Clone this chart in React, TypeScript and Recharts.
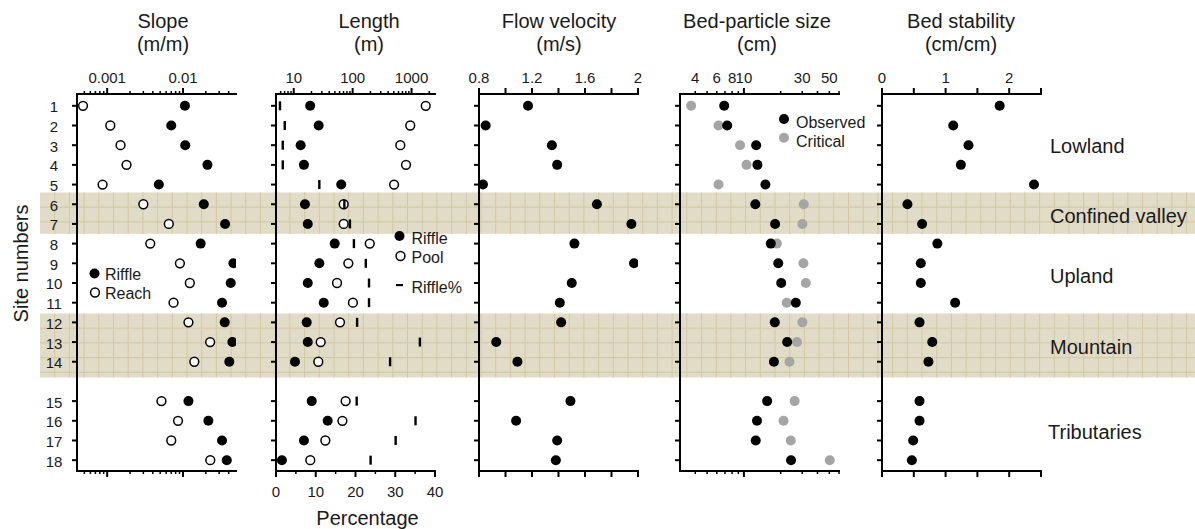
import React from 'react';
import { ScatterChart, Scatter, XAxis, YAxis, ReferenceArea } from 'recharts';

// site numbers and the row each is drawn on (one empty row before the tributaries)
const sites = [1, 2, 3, 4, 5, 6, 7, 8, 9, 10, 11, 12, 13, 14, 15, 16, 17, 18];
const siteRows = [1, 2, 3, 4, 5, 6, 7, 8, 9, 10, 11, 12, 13, 14, 16, 17, 18, 19];

const slopeRiffle = [0.0106, 0.007, 0.0107, 0.021, 0.0048, 0.0188, 0.0359, 0.0171, 0.0462, 0.0426, 0.0327, 0.0355, 0.0448, 0.0408, 0.0118, 0.0216, 0.0327, 0.0378];
const slopeReach = [0.00048, 0.0011, 0.0015, 0.0018, 0.00087, 0.003, 0.0065, 0.0037, 0.0091, 0.0123, 0.0075, 0.0118, 0.0228, 0.0141, 0.0052, 0.0086, 0.007, 0.0229];

const lengthRiffle = [19, 26.5, 13.1, 14.9, 64, 15.5, 17.3, 49.6, 27.2, 17.3, 32.3, 16.6, 17.3, 10.5, 20.2, 37.7, 14.9, 6.3];
const lengthPool = [1740, 950, 645, 805, 505, 70.5, 70.5, 195, 84.5, 54.3, 101, 61, 28.7, 26.1, 76, 67, 34.4, 19.1];
const rifflePct = [1.0, 2.2, 1.7, 1.7, 10.9, 17.2, 18.6, 19.6, 22.6, 23.4, 23.4, 20.4, 36.2, 28.7, 20.3, 35.1, 30.1, 23.8];

const flowVelocity = [1.17, 0.85, 1.35, 1.39, 0.83, 1.69, 1.95, 1.52, 1.97, 1.5, 1.41, 1.42, 0.93, 1.09, 1.49, 1.08, 1.39, 1.38];

const particleObserved = [6.9, 7.3, 12.6, 12.9, 15.0, 12.4, 18.0, 16.6, 19.1, 20.2, 26.6, 17.9, 22.6, 17.6, 15.5, 12.8, 12.5, 24.3];
const particleCritical = [3.7, 6.2, 9.3, 10.5, 6.2, 30.9, 30.1, 18.6, 30.7, 32.1, 22.4, 30.1, 27.2, 23.6, 26.0, 21.1, 24.2, 50.4];

const bedStability = [1.85, 1.12, 1.36, 1.24, 2.39, 0.4, 0.63, 0.87, 0.61, 0.61, 1.15, 0.59, 0.79, 0.73, 0.59, 0.59, 0.49, 0.47];

// axis ticks
const slopeTicks = [0.0005, 0.0006, 0.0007, 0.0008, 0.0009, 0.001, 0.002, 0.003, 0.004, 0.005, 0.006, 0.007, 0.008, 0.009, 0.01, 0.02, 0.03, 0.04];
const slopeLabels = [0.001, 0.01];
const lengthTicks = [6, 7, 8, 9, 10, 20, 30, 40, 50, 60, 70, 80, 90, 100, 200, 300, 400, 500, 600, 700, 800, 900, 1000, 2000];
const lengthLabels = [10, 100, 1000];
const pctTicks = [0, 5, 10, 15, 20, 25, 30, 35, 40];
const pctLabels = [0, 10, 20, 30, 40];
const flowTicks = [0.8, 1, 1.2, 1.4, 1.6, 1.8, 2];
const flowLabels = [0.8, 1.2, 1.6, 2];
const particleTicks = [4, 5, 6, 7, 8, 9, 10, 20, 30, 40, 50, 60];
const particleMajor = [10];
const particleLabels = [4, 6, 8, 10, 30, 50];
const stabilityTicks = [0, 0.5, 1, 1.5, 2, 2.5];
const stabilityLabels = [0, 1, 2];

const regions = [
    { name: 'Lowland', y: 153, x: 1050 },
    { name: 'Confined valley', y: 223, x: 1050 },
    { name: 'Upland', y: 283, x: 1050 },
    { name: 'Mountain', y: 354, x: 1050 },
    { name: 'Tributaries', y: 439, x: 1048 },
];
const shadedRows: [number, number][] = [[5.4, 7.5], [11.55, 14.8]];

const FONT = '"Liberation Sans", Arial, sans-serif';
const TXT = '#1a1a1a';
const W = 1195;
const H = 529;
const PLOT_W = 159;
const PLOT_TOP = 94;
const PLOT_BOTTOM = 471;
const AXIS_H = 30;
const RIGHT = 12;
const Y_DOMAIN: [number, number] = [0.4, 19.55];
const axisStyle = { stroke: '#000', strokeWidth: 2, strokeLinecap: 'square' as const };

type AxisCfg = { domain: [number, number]; scale: 'log' | 'linear'; ticks: number[]; majors: number[]; labels: number[] };
type Mark = 'filled' | 'open' | 'gray' | 'dash';
type SeriesCfg = { name: string; values: number[]; mark: Mark; axis: 'top' | 'bot' };

const marks: Record<Mark, (p: any) => React.ReactElement> = {
    filled: (p) => <circle cx={p.cx} cy={p.cy} r={5} fill="#000" />,
    open: (p) => <circle cx={p.cx} cy={p.cy} r={4.4} fill="#fff" stroke="#000" strokeWidth={1.5} />,
    gray: (p) => <circle cx={p.cx} cy={p.cy} r={5} fill="#a5a5a5" />,
    dash: (p) => <rect x={p.cx - 1.2} y={p.cy - 4.5} width={2.4} height={9} fill="#000" />,
};

const xTick = (cfg: AxisCfg, side: 'top' | 'bottom') => (p: any) => {
    const { x, y, payload } = p;
    const v = payload.value;
    const major = cfg.majors.includes(v);
    const len = major ? 6 : 3;
    const d = side === 'top' ? -1 : 1;
    return (
        <g>
            <line x1={x} x2={x} y1={y} y2={y + d * len} stroke="#000" strokeWidth={major ? 2 : 1.5} />
            {cfg.labels.includes(v) && (
                <text x={x} y={side === 'top' ? y - 11 : y + 26} textAnchor="middle" fontSize={15} fontFamily={FONT} fill={TXT}>
                    {String(v)}
                </text>
            )}
        </g>
    );
};

const yTick = (showLabels: boolean) => (p: any) => {
    const { x, y, payload } = p;
    const i = siteRows.indexOf(payload.value);
    return (
        <g>
            <line x1={x - 5} x2={x} y1={y} y2={y} stroke="#000" strokeWidth={2} />
            {showLabels && (
                <text x={x - 23} y={y + 6.5} textAnchor="middle" fontSize={15} fontFamily={FONT} fill={TXT}>
                    {sites[i]}
                </text>
            )}
        </g>
    );
};

function Panel({ plotLeft, yw, top, bottom, series, showSites }: {
    plotLeft: number; yw: number; top: AxisCfg; bottom: AxisCfg; series: SeriesCfg[]; showSites?: boolean;
}) {
    return (
        <div style={{ position: 'absolute', left: plotLeft - yw, top: 0 }}>
            <ScatterChart
                width={yw + PLOT_W + RIGHT}
                height={H}
                margin={{ top: PLOT_TOP - AXIS_H, right: RIGHT, bottom: H - PLOT_BOTTOM - AXIS_H, left: 0 }}
            >
                <XAxis xAxisId="top" orientation="top" type="number" dataKey="x" scale={top.scale} domain={top.domain}
                    allowDataOverflow ticks={top.ticks} interval={0} height={AXIS_H} tickSize={0} tickMargin={0}
                    tickLine={false} axisLine={axisStyle} tick={xTick(top, 'top')} />
                <XAxis xAxisId="bot" orientation="bottom" type="number" dataKey="x" scale={bottom.scale} domain={bottom.domain}
                    allowDataOverflow ticks={bottom.ticks} interval={0} height={AXIS_H} tickSize={0} tickMargin={0}
                    tickLine={false} axisLine={axisStyle} tick={xTick(bottom, 'bottom')} />
                <YAxis type="number" dataKey="y" domain={Y_DOMAIN} reversed allowDataOverflow ticks={siteRows}
                    interval={0} width={yw} tickSize={0} tickMargin={0} tickLine={false} axisLine={axisStyle}
                    tick={yTick(!!showSites)} />
                {series.map((s) => (
                    <Scatter
                        key={s.name}
                        name={s.name}
                        xAxisId={s.axis}
                        data={siteRows.map((row, i) => ({ x: s.values[i], y: row }))}
                        shape={marks[s.mark]}
                        isAnimationActive={false}
                    />
                ))}
            </ScatterChart>
        </div>
    );
}

const GRID = 14.7;
function GridBand(props: any) {
    const { x, y, width, height } = props;
    const vs: number[] = [];
    for (let gx = x + GRID; gx < x + width; gx += GRID) vs.push(gx);
    const hs: number[] = [];
    for (let gy = y + GRID; gy < y + height - 2; gy += GRID) hs.push(gy);
    return (
        <g>
            <rect x={x} y={y} width={width} height={height} fill="#e1dcc8" />
            {vs.map((gx) => <line key={'v' + gx} x1={gx} x2={gx} y1={y} y2={y + height} stroke="#d2c8a3" strokeWidth={1} />)}
            {hs.map((gy) => <line key={'h' + gy} x1={x} x2={x + width} y1={gy} y2={gy} stroke="#d2c8a3" strokeWidth={1} />)}
        </g>
    );
}

function Bands() {
    return (
        <div style={{ position: 'absolute', left: 0, top: 0 }}>
            <ScatterChart width={W} height={H} margin={{ top: PLOT_TOP, right: 0, bottom: H - PLOT_BOTTOM, left: 40 }}>
                <XAxis type="number" dataKey="x" domain={[0, 1]} allowDataOverflow hide />
                <YAxis type="number" dataKey="y" domain={Y_DOMAIN} reversed allowDataOverflow hide />
                {shadedRows.map(([a, b]) => (
                    <ReferenceArea key={a} y1={a} y2={b} shape={GridBand} ifOverflow="visible" />
                ))}
            </ScatterChart>
        </div>
    );
}

const slopeAxis: AxisCfg = { domain: [0.0004, 0.05], scale: 'log', ticks: slopeTicks, majors: slopeLabels, labels: slopeLabels };
const lengthAxis: AxisCfg = { domain: [5, 2500], scale: 'log', ticks: lengthTicks, majors: lengthLabels, labels: lengthLabels };
const pctAxis: AxisCfg = { domain: [0, 40], scale: 'linear', ticks: pctTicks, majors: pctLabels, labels: pctLabels };
const flowAxis: AxisCfg = { domain: [0.8, 2], scale: 'linear', ticks: flowTicks, majors: flowTicks, labels: flowLabels };
const particleAxis: AxisCfg = { domain: [3, 60], scale: 'log', ticks: particleTicks, majors: particleMajor, labels: particleLabels };
const stabilityAxis: AxisCfg = { domain: [0, 2.5], scale: 'linear', ticks: stabilityTicks, majors: stabilityTicks, labels: stabilityLabels };
const noLabels = (a: AxisCfg): AxisCfg => ({ ...a, labels: [] });

const titles = [
    { x: 163, l1: 'Slope', l2: '(m/m)' },
    { x: 369, l1: 'Length', l2: '(m)' },
    { x: 559, l1: 'Flow velocity', l2: '(m/s)' },
    { x: 757, l1: 'Bed-particle size', l2: '(cm)' },
    { x: 961, l1: 'Bed stability', l2: '(cm/cm)' },
];

export default function App() {
    return (
        <div style={{ position: 'absolute', left: 0, top: 0, width: W, height: H, background: '#fff', overflow: 'hidden', fontFamily: FONT }}>
            <Bands />
            <Panel plotLeft={77} yw={77} showSites top={slopeAxis} bottom={noLabels(slopeAxis)} series={[
                { name: 'Reach', values: slopeReach, mark: 'open', axis: 'top' },
                { name: 'Riffle', values: slopeRiffle, mark: 'filled', axis: 'top' },
            ]} />
            <Panel plotLeft={276} yw={20} top={lengthAxis} bottom={pctAxis} series={[
                { name: 'Riffle', values: lengthRiffle, mark: 'filled', axis: 'top' },
                { name: 'Pool', values: lengthPool, mark: 'open', axis: 'top' },
                { name: 'Riffle%', values: rifflePct, mark: 'dash', axis: 'bot' },
            ]} />
            <Panel plotLeft={479} yw={20} top={flowAxis} bottom={noLabels(flowAxis)} series={[
                { name: 'Flow velocity', values: flowVelocity, mark: 'filled', axis: 'top' },
            ]} />
            <Panel plotLeft={680} yw={20} top={particleAxis} bottom={noLabels(particleAxis)} series={[
                { name: 'Critical', values: particleCritical, mark: 'gray', axis: 'top' },
                { name: 'Observed', values: particleObserved, mark: 'filled', axis: 'top' },
            ]} />
            <Panel plotLeft={882} yw={20} top={stabilityAxis} bottom={noLabels(stabilityAxis)} series={[
                { name: 'Bed stability', values: bedStability, mark: 'filled', axis: 'top' },
            ]} />

            <svg width={W} height={H} style={{ position: 'absolute', left: 0, top: 0, pointerEvents: 'none' }} fontFamily={FONT} fill={TXT}>
                {titles.map((t) => (
                    <g key={t.l1}>
                        <text x={t.x} y={28} textAnchor="middle" fontSize={20}>{t.l1}</text>
                        <text x={t.x} y={51} textAnchor="middle" fontSize={20}>{t.l2}</text>
                    </g>
                ))}
                <text transform="translate(28,263.5) rotate(-90)" textAnchor="middle" fontSize={20}>Site numbers</text>
                <text x={367.5} y={525} textAnchor="middle" fontSize={20}>Percentage</text>

                {/* slope legend */}
                <circle cx={94.5} cy={273.5} r={5} fill="#000" />
                <text x={105} y={280} fontSize={16}>Riffle</text>
                <circle cx={95} cy={292.5} r={4.4} fill="#fff" stroke="#000" strokeWidth={1.5} />
                <text x={105} y={299} fontSize={16}>Reach</text>

                {/* length legend */}
                <circle cx={399.5} cy={236} r={5} fill="#000" />
                <text x={411.5} y={244} fontSize={16}>Riffle</text>
                <circle cx={400.5} cy={256} r={4.4} fill="#fff" stroke="#000" strokeWidth={1.5} />
                <text x={411.5} y={263} fontSize={16}>Pool</text>
                <rect x={396} y={284} width={7} height={2.2} fill="#000" />
                <text x={411.5} y={293} fontSize={16}>Riffle%</text>

                {/* bed-particle legend */}
                <circle cx={784} cy={119} r={5} fill="#000" />
                <text x={796} y={127.5} fontSize={16}>Observed</text>
                <circle cx={784} cy={137.7} r={5} fill="#a5a5a5" />
                <text x={796} y={146.5} fontSize={16}>Critical</text>

                {regions.map((r) => (
                    <text key={r.name} x={r.x} y={r.y} fontSize={20}>{r.name}</text>
                ))}
            </svg>
        </div>
    );
}
